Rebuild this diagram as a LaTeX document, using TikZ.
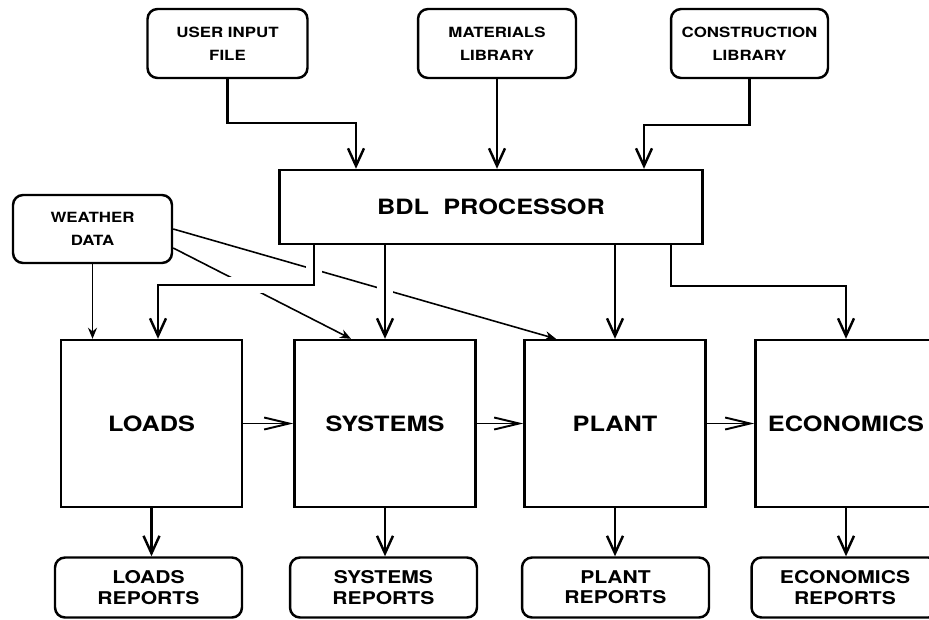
\documentclass[tikz,border=0pt]{standalone}
\usepackage{fontspec}
\setmainfont{TeX Gyre Heros}[FakeStretch=1.2]
\usepackage{tikz}
\usetikzlibrary{arrows.meta}
\usetikzlibrary{backgrounds}
\tikzstyle{source}=[rectangle,rounded corners=2mm,draw=black,line width=1.4pt,minimum width=3.2cm,minimum height=1.38cm,align=center,font=\bfseries\fontsize{8}{13}\selectfont]
\tikzstyle{module}=[rectangle,draw=black,line width=1.4pt,minimum width=3.62cm,minimum height=3.34cm,font=\bfseries\fontsize{12}{14}\selectfont]
\tikzstyle{report}=[rectangle,rounded corners=2mm,draw=black,line width=1.4pt,minimum width=3.74cm,minimum height=1.2cm,align=center,font=\bfseries\fontsize{10}{11.5}\selectfont]
\tikzstyle{arrow}=[-{Straight Barb[length=3.5mm,width=3.2mm]},line width=1.4pt]
\tikzstyle{flowright}=[-{Straight Barb[length=5mm,width=2.4mm]},line width=1.1pt]
\tikzstyle{feed}=[-{Stealth[length=2.2mm,width=1.8mm]},line width=0.9pt]
\tikzstyle{crossgap}=[draw=white,line width=9pt]

\begin{document}
\begin{tikzpicture}[x=0.02cm,y=-0.02cm]
      \useasboundingbox (0,0) rectangle (929,619);
      \clip (0,0) rectangle (929,619);
      \node[source] at (227.5,43.5) (ui) {USER INPUT\\FILE};
      \node[source,minimum width=3.16cm] at (497,43.5) (ml) {MATERIALS\\LIBRARY};
      \node[source,minimum width=3.14cm] at (749.5,43.5) (cl) {CONSTRUCTION\\LIBRARY};
      \node[rectangle,draw=black,line width=1.4pt,minimum width=8.46cm,minimum height=1.48cm,font=\bfseries\fontsize{12}{14}\selectfont] at (491,207) (bdl) {BDL\ \ PROCESSOR};
      \node[source,minimum width=3.18cm,minimum height=1.36cm] at (92.5,229) (wd) {WEATHER\\DATA};
      \node[module] at (151.5,423.5) (ld) {LOADS};
      \node[module] at (385,423.5) (sy) {SYSTEMS};
      \node[module] at (615,423.5) (pl) {PLANT};
      \node[module] at (846,423.5) (ec) {ECONOMICS};
      \node[report] at (148.5,587.5) (ldr) {LOADS\\REPORTS};
      \node[report] at (383.5,587.5) (syr) {SYSTEMS\\REPORTS};
      \node[report] at (615.5,587.5) (plr) {PLANT\\REPORTS};
      \node[report] at (845,587.5) (ecr) {ECONOMICS\\REPORTS};
      \coordinate (uitap) at (356,123);
      \coordinate (cltap) at (644,125);
      \coordinate (ldtap) at (314,285);
      \coordinate (ectap) at (671,286);
      \draw[arrow] (ui.south) |- (uitap) -- (uitap |- bdl.north);
      \draw[arrow] (ml.south) -- (ml.south |- bdl.north);
      \draw[arrow] (cl.south) |- (cltap) -- (cltap |- bdl.north);
      \draw[arrow] (bdl.south -| ldtap) -- (ldtap) -| ([xshift=0.13cm]ld.north);
      \draw[arrow] (bdl.south -| sy.north) -- (sy.north);
      \draw[arrow] (bdl.south -| pl.north) -- (pl.north);
      \draw[arrow] (bdl.south -| ectap) -- (ectap) -| (ec.north);
      \draw[flowright] (ld.east) -- (sy.west);
      \draw[flowright] (sy.east) -- (pl.west);
      \draw[flowright] (pl.east) -- (ec.west);
      \draw[arrow] (ld.south) -- (ld.south |- ldr.north);
      \draw[arrow] (sy.south) -- (sy.south |- syr.north);
      \draw[arrow] (pl.south) -- (pl.south |- plr.north);
      \draw[arrow] (ec.south) -- (ec.south |- ecr.north);
      \begin{scope}[on background layer]
        \draw[feed] (wd.south) -- (wd.south |- ld.north);
        \draw[feed] ([yshift=-0.38cm]wd.east) -- ([xshift=-0.68cm]sy.north);
        \draw[feed] (wd.east) -- ([xshift=-1.18cm]pl.north);
        \draw[crossgap] (bdl.south -| ldtap) -- (ldtap) -- (ldtap -| ld.north);
        \draw[crossgap] (bdl.south -| sy.north) -- (sy.north);
      \end{scope}
    \end{tikzpicture}
\end{document}
